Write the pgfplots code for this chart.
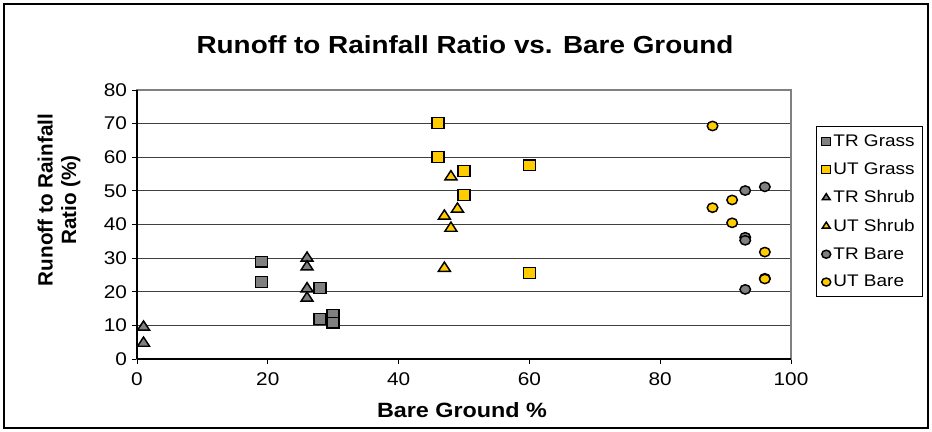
\documentclass[border=0pt]{standalone}
\usepackage{pgfplots}
\pgfplotsset{compat=1.18}
\usepackage{fontspec}
\setmainfont[FakeStretch=1.13]{Liberation Sans}
\newfontfamily\plainfont{Liberation Sans}
\definecolor{mgrey}{HTML}{808080}
\definecolor{myell}{HTML}{FFCC00}
\definecolor{gridc}{HTML}{404040}
\begin{document}
\begin{tikzpicture}[x=0.75pt,y=0.75pt]
\useasboundingbox (0,0) rectangle (932,432);
\draw[black,line width=1.1pt] (4,4) rectangle (928,428);
\node[font=\fontsize{18.5}{22}\selectfont\bfseries] at (465,387) {Runoff to Rainfall Ratio vs. Bare Ground};
\node[font=\fontsize{15.5}{18}\selectfont\bfseries] at (462,22) {Bare Ground \%};
\node[font=\plainfont\fontsize{15.5}{17.5}\selectfont\bfseries,rotate=90,align=center] at (59,232) {Runoff to Rainfall\\Ratio (\%)};
\begin{axis}[
  at={(102.75pt,54.75pt)}, anchor=south west,
  scale only axis, width=490.5pt, height=201.75pt,
  xmin=0, xmax=100, ymin=0, ymax=80,
  xtick={0,20,...,100}, ytick={0,10,...,80},
  xtick pos=left, ytick pos=left,
  tick align=outside, major tick length=4pt,
  tick style={black, line width=0.6pt},
  ymajorgrids, grid style={gridc, line width=0.9pt},
  axis line style={mgrey, line width=1.2pt},
  ticklabel style={font=\fontsize{13.8}{16}\selectfont},
  xticklabel style={yshift=-3pt},
  /pgf/number format/assume math mode=true,
  every axis plot/.append style={only marks, line width=1.1pt, draw=black},
  legend style={at={(1.038,0.866)}, anchor=north west, draw=black, line width=0.8pt,
     font=\fontsize{12.6}{15}\selectfont, row sep=6.7pt, inner xsep=4pt, inner ysep=4pt,
     cells={anchor=west}},
  legend image post style={mark size=3pt},
  clip=false,
]
\draw[black,line width=1.3pt] (axis cs:0,0) -- (axis cs:0,80);
\draw[black,line width=1.3pt] (axis cs:0,0) -- (axis cs:100,0);
\addplot[mark=square*, mark size=4pt, fill=mgrey, mark options={xscale=1.13}] coordinates {
(19,28.9) (19,22.9) (28,21.1) (28,11.9) (30,13.1) (30,10.8)};
\addlegendentry{TR Grass}
\addplot[mark=square*, mark size=4pt, fill=myell, mark options={xscale=1.13}] coordinates {
(46,70.2) (46,60.1) (50,55.9) (50,48.8) (60,57.6) (60,25.6)};
\addlegendentry{UT Grass}
\addplot[mark=triangle*, mark size=4.6pt, fill=mgrey, mark options={xscale=1.13}] coordinates {
(1,9.5) (1,4.7) (26,30) (26,27.4) (26,20.9) (26,18.1)};
\addlegendentry{TR Shrub}
\addplot[mark=triangle*, mark size=4.6pt, fill=myell, mark options={xscale=1.13}] coordinates {
(48,54.2) (49,44.6) (47,42.5) (48,38.9) (47,27)};
\addlegendentry{UT Shrub}
\addplot[mark=*, mark size=3.5pt, fill=mgrey, mark options={xscale=1.13}] coordinates {
(93,50.1) (96,51.2) (93,36.2) (93,35.3) (93,20.7) (96,24)};
\addlegendentry{TR Bare}
\addplot[mark=*, mark size=3.5pt, fill=myell, mark options={xscale=1.13}] coordinates {
(88,69.3) (88,45) (91,47.3) (91,40.5) (96,31.8) (96,23.8)};
\addlegendentry{UT Bare}
\end{axis}
\end{tikzpicture}
\end{document}
